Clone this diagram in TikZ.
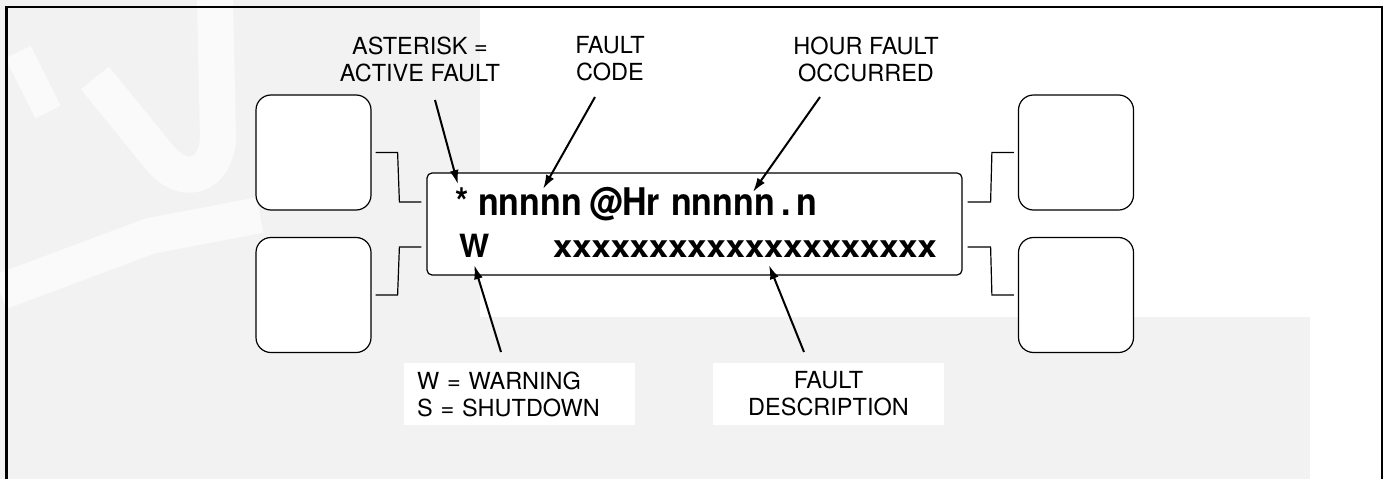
\documentclass[tikz,border=0pt]{standalone}
\usepackage{fontspec}
\setmainfont{TeX Gyre Heros}
\usetikzlibrary{arrows.meta}
\definecolor{wmgray}{RGB}{242,242,242}
\begin{document}
\begin{tikzpicture}[x=1pt, y=-1pt,
  keybox/.style={draw, line width=1.2pt, rounded corners=15pt, fill=white, minimum width=115pt, minimum height=115pt, inner sep=0pt},
  lcd/.style={draw, line width=1.2pt, rounded corners=5pt, fill=white, minimum width=535pt, minimum height=102pt, inner sep=0pt},
  wire/.style={line width=1.2pt},
  pointer/.style={line width=2pt, -{Latex[length=14pt, width=9pt]}},
  callout/.style={font=\fontsize{23.5}{27}\selectfont, align=center, inner sep=0pt},
  note/.style={callout, fill=white, minimum width=231pt, minimum height=62pt},
  big/.style={font=\fontsize{34}{34}\selectfont\bfseries, inner sep=0pt, anchor=base west},
  glare/.style={white, opacity=.65, line width=36pt}]
  \useasboundingbox (0,0) rectangle (1386,479);
  % watermark
  \fill[wmgray] (0,0) rectangle (480,479);
  \fill[wmgray] (480,317) rectangle (1310,479);
  \draw[glare] (95,78) -- (160,158) .. controls (185,188) and (215,175) .. (218,140) -- (215,0);
  \draw[glare] (0,292) -- (150,236) -- (260,215);
  \draw[glare, line width=28pt] (18,52) -- (48,112);
  % frame
  \draw[line width=2.5pt] (6.5,479) -- (6.5,7) -- (1382,7) -- (1382,479);
  % keys and display
  \node[keybox] (kul) at (313.5,152.5) {};
  \node[keybox] (kll) at (313.5,295) {};
  \node[keybox] (kur) at (1076,152.5) {};
  \node[keybox] (klr) at (1076,295) {};
  \node[lcd] (lcd) at (694.5,224) {};
  \draw[wire] ([xshift=4pt]kul.east) -- ++(22,0) -- ([xshift=-27pt,yshift=22pt]lcd.west) -- ([xshift=-5pt,yshift=22pt]lcd.west);
  \draw[wire] ([xshift=4pt]kll.east) -- ++(22,0) -- ([xshift=-27pt,yshift=-23pt]lcd.west) -- ([xshift=-5pt,yshift=-23pt]lcd.west);
  \draw[wire] ([xshift=5pt,yshift=22pt]lcd.east) -- ([xshift=28pt,yshift=22pt]lcd.east) -- ([xshift=-26pt]kur.west) -- ([xshift=-4pt]kur.west);
  \draw[wire] ([xshift=5pt,yshift=-23pt]lcd.east) -- ([xshift=28pt,yshift=-23pt]lcd.east) -- ([xshift=-26pt]klr.west) -- ([xshift=-4pt]klr.west);
  % display text
  \node[big] (star) at (455,215) {\scalebox{1}[1.12]{*}};
  \node[big] (code) at (478,215) {\scalebox{1}[1.12]{nnnnn}};
  \node[big] (athr) at (589,215) {\scalebox{1}[1.12]{@Hr}};
  \node[big] (hours) at (671,215) {\scalebox{1}[1.12]{nnnnn\kern6pt.\kern6pt n}};
  \node[big, font=\fontsize{32}{32}\selectfont\bfseries] (warn) at (459,257) {W};
  \node[big, font=\fontsize{34.5}{34}\selectfont\bfseries] (desc) at (553,257) {\scalebox{1}[0.9]{xxxxxxxxxxxxxxxxxxxx}};
  % labels
  \node[callout] (lblstar) at (420,59) {ASTERISK =\\ACTIVE FAULT};
  \node[callout] (lblcode) at (610,59) {FAULT\\CODE};
  \node[callout] (lblhour) at (866,59) {HOUR FAULT\\OCCURRED};
  \node[note, text width=205pt, align=left] (lblwarn) at (519.5,394) {W = WARNING\\S = SHUTDOWN};
  \node[note] (lbldesc) at (828.5,394) {FAULT\\DESCRIPTION};
  % arrows
  \coordinate (tstar) at (435,100);
  \coordinate (tcode) at (595,97);
  \coordinate (thour) at (820,97);
  \coordinate (twarn) at (501,352);
  \coordinate (tdesc) at (804,352);
  \draw[pointer] (tstar) -- ([xshift=-4pt,yshift=3pt]star.north);
  \draw[pointer] (tcode) -- ([xshift=13pt,yshift=5pt]code.north);
  \draw[pointer] (thour) -- ([xshift=82pt,yshift=2pt]hours.north west);
  \draw[pointer] (twarn) -- ([yshift=-8pt]warn.south);
  \draw[pointer] (tdesc) -- ([xshift=24pt,yshift=-8pt]desc.south);
\end{tikzpicture}
\end{document}
